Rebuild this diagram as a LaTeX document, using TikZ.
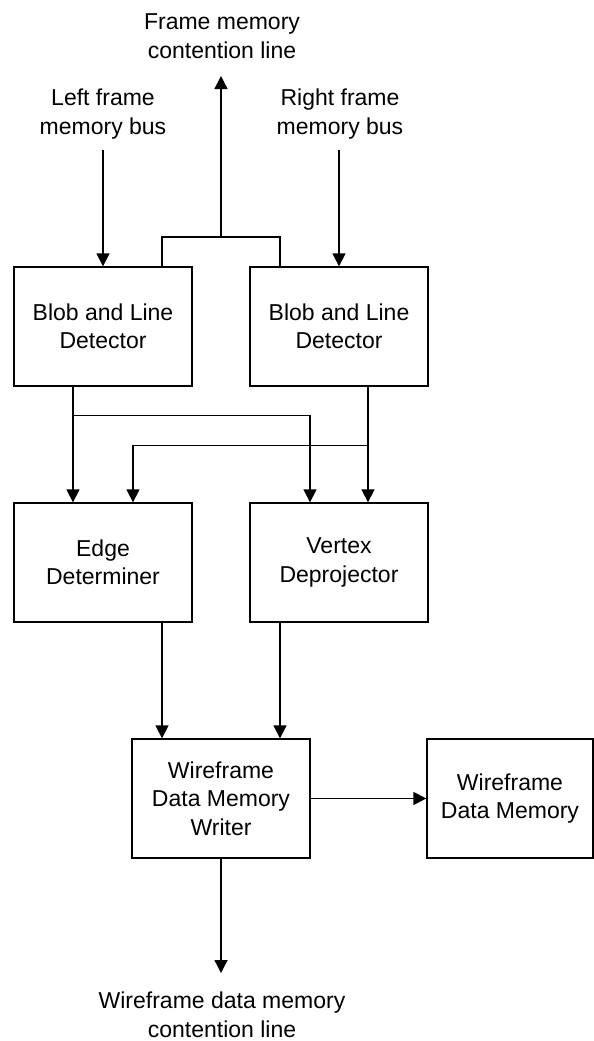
\documentclass[tikz,border=0pt]{standalone}
\usepackage{fontspec}
\setmainfont{Liberation Sans}
\usetikzlibrary{arrows.meta}
\begin{document}
\begin{tikzpicture}[x=1pt,y=-1pt,
  every node/.style={font=\fontsize{23}{28.5}\selectfont, align=center, inner sep=0pt},
  blk/.style={draw, line width=1.3pt, minimum width=178pt, minimum height=119pt},
  lbl/.style={},
  conn/.style={line width=1.3pt},
  arr/.style={conn, -{Triangle[width=13pt,length=13pt]}}]
\useasboundingbox (0,0) rectangle (594,1041);
% boxes
\node[blk] (b1) at (103,326.5) {Blob and Line\\Detector};
\node[blk] (b2) at (339,326.5) {Blob and Line\\Detector};
\node[blk] (ed) at (103,562.5) {Edge\\Determiner};
\node[blk] (vd) at (339,562.5) {Vertex\\Deprojector};
\node[blk] (wr) at (221,798.5) {Wireframe\\Data Memory\\Writer};
\node[blk, minimum width=166pt] (wm) at (510,798.5) {Wireframe\\Data Memory};
% labels
\node[lbl] (tlab) at (222,36) {Frame memory\\contention line};
\node[lbl] (llab) at (103,114) {Left frame\\memory bus};
\node[lbl] (rlab) at (340,114) {Right frame\\memory bus};
\node[lbl] (blab) at (222,1015) {Wireframe data memory\\contention line};
% free ends
\coordinate (ltop) at (103,150);
\coordinate (rtop) at (339,150);
\coordinate (ftop) at (221,76);
\coordinate (fj) at (221,237);
\coordinate (bend) at (221,973);
% inputs
\draw[arr] (ltop) -- (b1.north);
\draw[arr] (rtop) -- (b2.north);
% contention line
\draw[conn] ([xshift=59pt]b1.north) |- (fj) -| ([xshift=-59pt]b2.north);
\draw[arr] (fj) -- (ftop);
% detectors to edge/vertex
\draw[arr] ([xshift=-30pt]b1.south) -- ([xshift=-30pt]ed.north);
\draw[arr] ([xshift=-30pt]b1.south) -- ++(0,29) -| ([xshift=-29pt]vd.north);
\draw[arr] ([xshift=29pt]b2.south) -- ([xshift=29pt]vd.north);
\draw[arr] ([xshift=29pt]b2.south) -- ++(0,59) -| ([xshift=30pt]ed.north);
% to writer
\draw[arr] ([xshift=59pt]ed.south) -- ([xshift=-59pt]wr.north);
\draw[arr] ([xshift=-59pt]vd.south) -- ([xshift=59pt]wr.north);
\draw[arr] (wr.east) -- (wm.west);
\draw[arr] (wr.south) -- (bend);
\end{tikzpicture}
\end{document}
